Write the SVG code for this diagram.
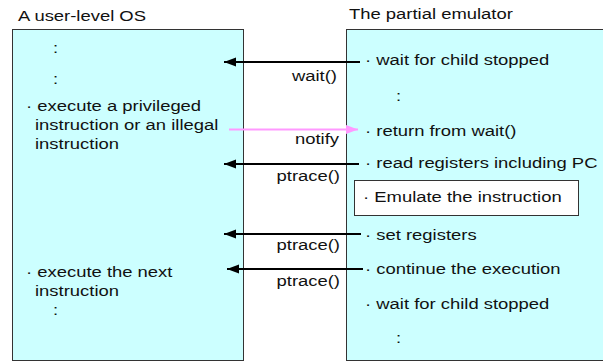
<svg xmlns="http://www.w3.org/2000/svg" width="603" height="362" viewBox="0 0 603 362">
<style>
.box{fill:#ccffff;stroke:#333333;stroke-width:1}
.inner{fill:#ffffff;stroke:#333333;stroke-width:1}
text{font-family:"Liberation Sans",Arial,sans-serif;font-size:15.5px;fill:#111111}
.end{text-anchor:end}
.conn{stroke:#000000;stroke-width:2;fill:none}
.pink{stroke:#ff99ff;stroke-width:2;fill:none}
</style>
<defs>
<marker id="ah" markerUnits="userSpaceOnUse" markerWidth="13" markerHeight="10" refX="12" refY="5" orient="auto">
<path d="M0,0.5 L12,5 L0,9.5 Z" fill="#000000"/>
</marker>
<marker id="ahp" markerUnits="userSpaceOnUse" markerWidth="13" markerHeight="10" refX="12" refY="5" orient="auto">
<path d="M0,0.5 L12,5 L0,9.5 Z" fill="#ff99ff"/>
</marker>
</defs>

<text transform="translate(18,20.5) scale(1.19,1)">A user-level OS</text>
<text transform="translate(349,19) scale(1.19,1)">The partial emulator</text>

<g id="user-os">
<rect class="box" x="12.5" y="29.5" width="231" height="331"/>
<text transform="translate(53,53) scale(1.19,1)">:</text>
<text transform="translate(53,84) scale(1.19,1)">:</text>
<text transform="translate(26,111) scale(1.19,1)">· execute a privileged</text>
<text transform="translate(35,130) scale(1.19,1)">instruction or an illegal</text>
<text transform="translate(35,149) scale(1.19,1)">instruction</text>
<text transform="translate(26,277) scale(1.19,1)">· execute the next</text>
<text transform="translate(35,296) scale(1.19,1)">instruction</text>
<text transform="translate(53,315) scale(1.19,1)">:</text>
</g>

<g id="emulator">
<rect class="box" x="346.5" y="29.5" width="262" height="331"/>
<text transform="translate(365,65) scale(1.19,1)">· wait for child stopped</text>
<text transform="translate(396,101) scale(1.19,1)">:</text>
<text transform="translate(365,136) scale(1.19,1)">· return from wait()</text>
<text transform="translate(365,168) scale(1.19,1)">· read registers including PC</text>
<g id="emulate">
<rect class="inner" x="354.5" y="180.5" width="224" height="35"/>
<text transform="translate(363,202) scale(1.19,1)">· Emulate the instruction</text>
</g>
<text transform="translate(365,240) scale(1.19,1)">· set registers</text>
<text transform="translate(365,274) scale(1.19,1)">· continue the execution</text>
<text transform="translate(365,309) scale(1.19,1)">· wait for child stopped</text>
<text transform="translate(396,343) scale(1.19,1)">:</text>
</g>

<g id="connectors">
<line class="conn" x1="360" y1="62" x2="224" y2="62" marker-end="url(#ah)"/>
<text class="end" transform="translate(337,81) scale(1.19,1)">wait()</text>
<line class="pink" x1="229" y1="129.5" x2="358" y2="129.5" marker-end="url(#ahp)"/>
<text class="end" transform="translate(339,144) scale(1.19,1)">notify</text>
<line class="conn" x1="359" y1="164" x2="224" y2="164" marker-end="url(#ah)"/>
<text class="end" transform="translate(340,181) scale(1.19,1)">ptrace()</text>
<line class="conn" x1="361" y1="234" x2="224" y2="234" marker-end="url(#ah)"/>
<text class="end" transform="translate(340,250) scale(1.19,1)">ptrace()</text>
<line class="conn" x1="363" y1="269" x2="227" y2="269" marker-end="url(#ah)"/>
<text class="end" transform="translate(340,286) scale(1.19,1)">ptrace()</text>
</g>
</svg>
